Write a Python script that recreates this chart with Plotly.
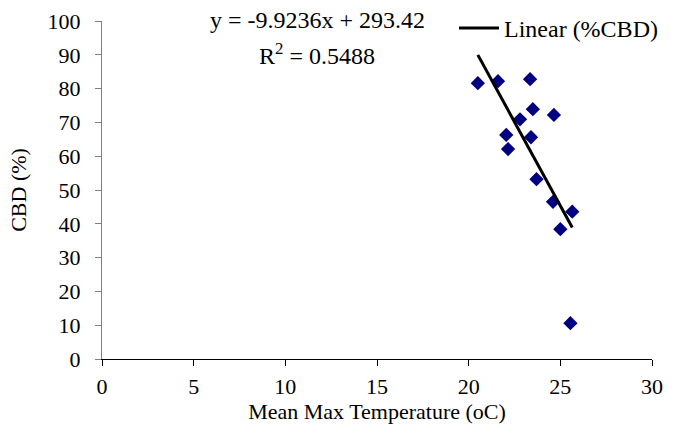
import plotly.graph_objects as go

# Data
temp_c = [20.5, 21.6, 23.35, 23.5, 24.65, 22.8, 22.05, 23.4, 22.15, 23.7, 24.6, 25.65, 25.0, 25.55]
cbd_pct = [81.6, 82.2, 82.8, 73.9, 72.2, 70.9, 66.3, 65.6, 62.1, 53.2, 46.5, 43.6, 38.4, 10.6]

slope = -9.9236
intercept = 293.42
r_squared = 0.5488

x_ticks = [0, 5, 10, 15, 20, 25, 30]
y_ticks = [0, 10, 20, 30, 40, 50, 60, 70, 80, 90, 100]

trend_x = [min(temp_c), max(temp_c)]
trend_y = [slope * v + intercept for v in trend_x]

FONT = "Liberation Serif, Times New Roman, serif"
FS = 22
FS_BIG = 24

W, H = 674, 448
ML, MB = 102, 89
PW, PH = W - ML, H - MB  # paper size (no top/right margin)


def px_x(p):
    return (p - ML) / PW


def px_y(p):
    return 1 - p / PH


fig = go.Figure()
fig.add_trace(go.Scatter(
    x=temp_c, y=cbd_pct, mode="markers", name="%CBD", showlegend=False,
    marker=dict(symbol="diamond", size=11, color="#000080", line=dict(width=0)),
))
fig.add_trace(go.Scatter(
    x=trend_x, y=trend_y, mode="lines", name="Linear (%CBD)",
    line=dict(color="black", width=3), showlegend=True,
))

fig.add_annotation(
    xref="paper", yref="paper", x=px_x(317), y=px_y(20), yanchor="middle",
    text=f"y = {slope}x + {intercept}", showarrow=False,
    font=dict(family=FONT, size=FS_BIG, color="black"),
)
fig.add_annotation(
    xref="paper", yref="paper", x=px_x(317), y=px_y(54), yanchor="middle",
    text=f"R<sup>2</sup> = {r_squared}", showarrow=False,
    font=dict(family=FONT, size=FS_BIG, color="black"),
)

fig.update_layout(
    width=W, height=H,
    margin=dict(l=ML, r=0, t=0, b=MB, autoexpand=False),
    paper_bgcolor="white", plot_bgcolor="white",
    font=dict(family=FONT, size=FS, color="black"),
    legend=dict(
        x=px_x(454), y=px_y(6), xanchor="left", yanchor="top",
        bgcolor="rgba(0,0,0,0)", font=dict(family=FONT, size=FS_BIG, color="black"),
        itemwidth=40,
    ),
    xaxis=dict(
        domain=[0, (652 - ML) / PW],
        range=[0, 30], tickvals=x_ticks, ticktext=[str(v) for v in x_ticks],
        showgrid=False, zeroline=False, showline=True, linecolor="black", linewidth=1,
        ticks="outside", ticklen=6, tickcolor="black", ticklabelstandoff=2,
        title=dict(text="Mean Max Temperature (oC)", font=dict(family=FONT, size=FS), standoff=0),
        tickfont=dict(family=FONT, size=FS), automargin=False,
    ),
    yaxis=dict(
        domain=[0, (PH - 21) / PH],
        range=[0, 100], tickvals=y_ticks, ticktext=[str(v) for v in y_ticks],
        showgrid=False, zeroline=False, showline=True, linecolor="#808080", linewidth=1,
        ticks="outside", ticklen=6, tickcolor="#808080", ticklabelstandoff=10,
        title=dict(text="CBD (%)", font=dict(family=FONT, size=FS), standoff=14),
        tickfont=dict(family=FONT, size=FS), automargin=False,
    ),
)

fig.write_html("out.html")
